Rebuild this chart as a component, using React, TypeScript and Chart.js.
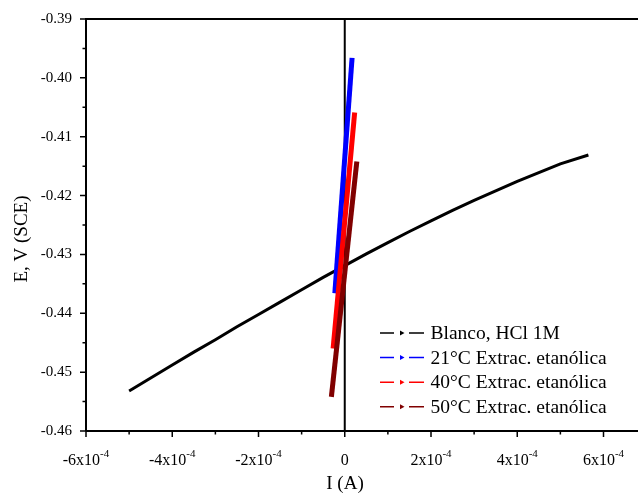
import React, { useEffect, useRef } from 'react';
import { Chart, registerables } from 'chart.js';

Chart.register(...registerables);

// ---- Data ----
const blancoCurrent = [-5.0e-4, -4.5e-4, -4.0e-4, -3.5e-4, -3.0e-4, -2.5e-4, -2.0e-4, -1.5e-4, -1.0e-4, -0.5e-4, 0, 0.5e-4, 1.0e-4, 1.5e-4, 2.0e-4, 2.5e-4, 3.0e-4, 3.5e-4, 4.0e-4, 4.5e-4, 5.0e-4, 5.65e-4];
const blancoPotential = [-0.4532, -0.4510, -0.4488, -0.4466, -0.4445, -0.4423, -0.4402, -0.4381, -0.4360, -0.4339, -0.4319, -0.4299, -0.4280, -0.4261, -0.4243, -0.4225, -0.4208, -0.4192, -0.4176, -0.4161, -0.4146, -0.4131];

const c21Current = [-2.3e-5, 1.7e-5];
const c21Potential = [-0.4366, -0.3966];

const c40Current = [-2.7e-5, 2.3e-5];
const c40Potential = [-0.4460, -0.4059];

const c50Current = [-3.1e-5, 2.8e-5];
const c50Potential = [-0.4542, -0.4142];

const seriesLabels = ['Blanco, HCl 1M', '21°C Extrac. etanólica', '40°C Extrac. etanólica', '50°C Extrac. etanólica'];
const seriesColors = ['#000000', '#0000ff', '#ff0000', '#800000'];
const seriesWidths = [3, 5, 5, 5];

const xMajorTicks = [-6e-4, -4e-4, -2e-4, 0, 2e-4, 4e-4, 6e-4];
const xTickMantissas = ['-6x10', '-4x10', '-2x10', '0', '2x10', '4x10', '6x10'];
const xTickExponents = ['-4', '-4', '-4', '', '-4', '-4', '-4'];
const xMinorTicks = [-5e-4, -3e-4, -1e-4, 1e-4, 3e-4, 5e-4];
const yMinorTicks = [-0.455, -0.445, -0.435, -0.425, -0.415, -0.405, -0.395];

const xTitle = 'I (A)';
const yTitle = 'E, V (SCE)';

const SERIF = "'Liberation Serif', 'Times New Roman', serif";

function pts(xs: number[], ys: number[]) {
  return xs.map((x, i) => ({ x, y: ys[i] }));
}

const decorPlugin = {
  id: 'decor',
  beforeDatasetsDraw(chart: any) {
    const { ctx, chartArea: a, scales } = chart;
    const x0 = scales.x.getPixelForValue(0);
    ctx.save();
    ctx.strokeStyle = '#000';
    ctx.lineWidth = 2;
    ctx.beginPath();
    ctx.moveTo(x0, a.top);
    ctx.lineTo(x0, a.bottom);
    ctx.stroke();
    ctx.restore();
  },
  afterDraw(chart: any) {
    const { ctx, chartArea: a, scales } = chart;
    const xs = scales.x;
    const ys = scales.y;
    ctx.save();
    ctx.strokeStyle = '#000';
    ctx.lineWidth = 2;
    // frame: left, top, bottom
    ctx.beginPath();
    ctx.moveTo(a.left, a.bottom);
    ctx.lineTo(a.left, a.top);
    ctx.lineTo(a.right, a.top);
    ctx.moveTo(a.left, a.bottom);
    ctx.lineTo(a.right, a.bottom);
    ctx.stroke();

    // x ticks
    ctx.lineWidth = 1.5;
    ctx.beginPath();
    xMajorTicks.forEach((v) => {
      const p = xs.getPixelForValue(v);
      ctx.moveTo(p, a.bottom);
      ctx.lineTo(p, a.bottom + 6);
    });
    xMinorTicks.forEach((v) => {
      const p = xs.getPixelForValue(v);
      ctx.moveTo(p, a.bottom);
      ctx.lineTo(p, a.bottom + 3.5);
    });
    // y ticks
    ys.ticks.forEach((t: any) => {
      const p = ys.getPixelForValue(t.value);
      ctx.moveTo(a.left, p);
      ctx.lineTo(a.left - 6, p);
    });
    yMinorTicks.forEach((v) => {
      const p = ys.getPixelForValue(v);
      ctx.moveTo(a.left, p);
      ctx.lineTo(a.left - 3.5, p);
    });
    ctx.stroke();

    // x tick labels with superscript exponent
    ctx.fillStyle = '#000';
    ctx.textBaseline = 'alphabetic';
    ctx.textAlign = 'left';
    xMajorTicks.forEach((v, i) => {
      const p = xs.getPixelForValue(v);
      ctx.font = `16px ${SERIF}`;
      const wm = ctx.measureText(xTickMantissas[i]).width;
      ctx.font = `11px ${SERIF}`;
      const we = xTickExponents[i] ? ctx.measureText(xTickExponents[i]).width : 0;
      const start = p - (wm + we) / 2;
      ctx.font = `16px ${SERIF}`;
      ctx.fillText(xTickMantissas[i], start, 465);
      if (xTickExponents[i]) {
        ctx.font = `11px ${SERIF}`;
        ctx.fillText(xTickExponents[i], start + wm, 457);
      }
    });

    // axis titles
    ctx.font = `19px ${SERIF}`;
    ctx.textAlign = 'center';
    ctx.fillText(xTitle, 345, 489);
    ctx.save();
    ctx.translate(27, 239);
    ctx.rotate(-Math.PI / 2);
    ctx.fillText(yTitle, 0, 0);
    ctx.restore();

    // legend
    ctx.textAlign = 'left';
    chart.data.datasets.forEach((ds: any, i: number) => {
      const ry = 333 + i * 24.6;
      ctx.strokeStyle = ds.borderColor;
      ctx.fillStyle = ds.borderColor;
      ctx.lineWidth = 1.5;
      ctx.beginPath();
      ctx.moveTo(380, ry);
      ctx.lineTo(394, ry);
      ctx.moveTo(409, ry);
      ctx.lineTo(424, ry);
      ctx.stroke();
      ctx.beginPath();
      ctx.moveTo(400, ry - 2.5);
      ctx.lineTo(404.5, ry);
      ctx.lineTo(400, ry + 2.5);
      ctx.closePath();
      ctx.fill();
      ctx.fillStyle = '#000';
      ctx.font = `19.5px ${SERIF}`;
      ctx.fillText(ds.label, 430.5, ry + 6);
    });
    ctx.restore();
  },
};

export default function App() {
  const ref = useRef<HTMLCanvasElement>(null);
  useEffect(() => {
    document.body.style.margin = '0';
    const canvas = ref.current;
    if (!canvas) return;
    const seriesX = [blancoCurrent, c21Current, c40Current, c50Current];
    const seriesY = [blancoPotential, c21Potential, c40Potential, c50Potential];
    const chart = new Chart(canvas, {
      type: 'line',
      data: {
        datasets: seriesLabels.map((label, i) => ({
          label,
          data: pts(seriesX[i], seriesY[i]),
          borderColor: seriesColors[i],
          backgroundColor: seriesColors[i],
          borderWidth: seriesWidths[i],
          pointRadius: 0,
          tension: 0,
          fill: false,
          order: 4 - i,
        })),
      },
      options: {
        responsive: false,
        animation: false,
        layout: { padding: { top: 19, left: 0, right: 0, bottom: 0 } },
        plugins: { legend: { display: false }, tooltip: { enabled: false } },
        scales: {
          x: {
            type: 'linear',
            min: -6e-4,
            max: 6.8e-4,
            grid: { display: false, drawTicks: false },
            border: { display: false },
            ticks: { display: false },
            afterFit: (s: any) => {
              s.height = 66;
              s.paddingLeft = 0;
              s.paddingRight = 0;
            },
          },
          y: {
            type: 'linear',
            min: -0.46,
            max: -0.39,
            grid: { display: false, drawTicks: false },
            border: { display: false },
            ticks: {
              stepSize: 0.01,
              padding: 14,
              color: '#000',
              font: { family: SERIF, size: 15 },
              callback: (v: any) => Number(v).toFixed(2),
            },
            afterFit: (s: any) => {
              s.width = 86;
              s.paddingTop = 0;
              s.paddingBottom = 0;
            },
          },
        },
      },
      plugins: [decorPlugin],
    });
    return () => chart.destroy();
  }, []);
  return (
    <div style={{ position: 'absolute', left: 0, top: 0, width: 638, height: 497, background: '#fff' }}>
      <canvas ref={ref} width={638} height={497} style={{ display: 'block' }} />
    </div>
  );
}
